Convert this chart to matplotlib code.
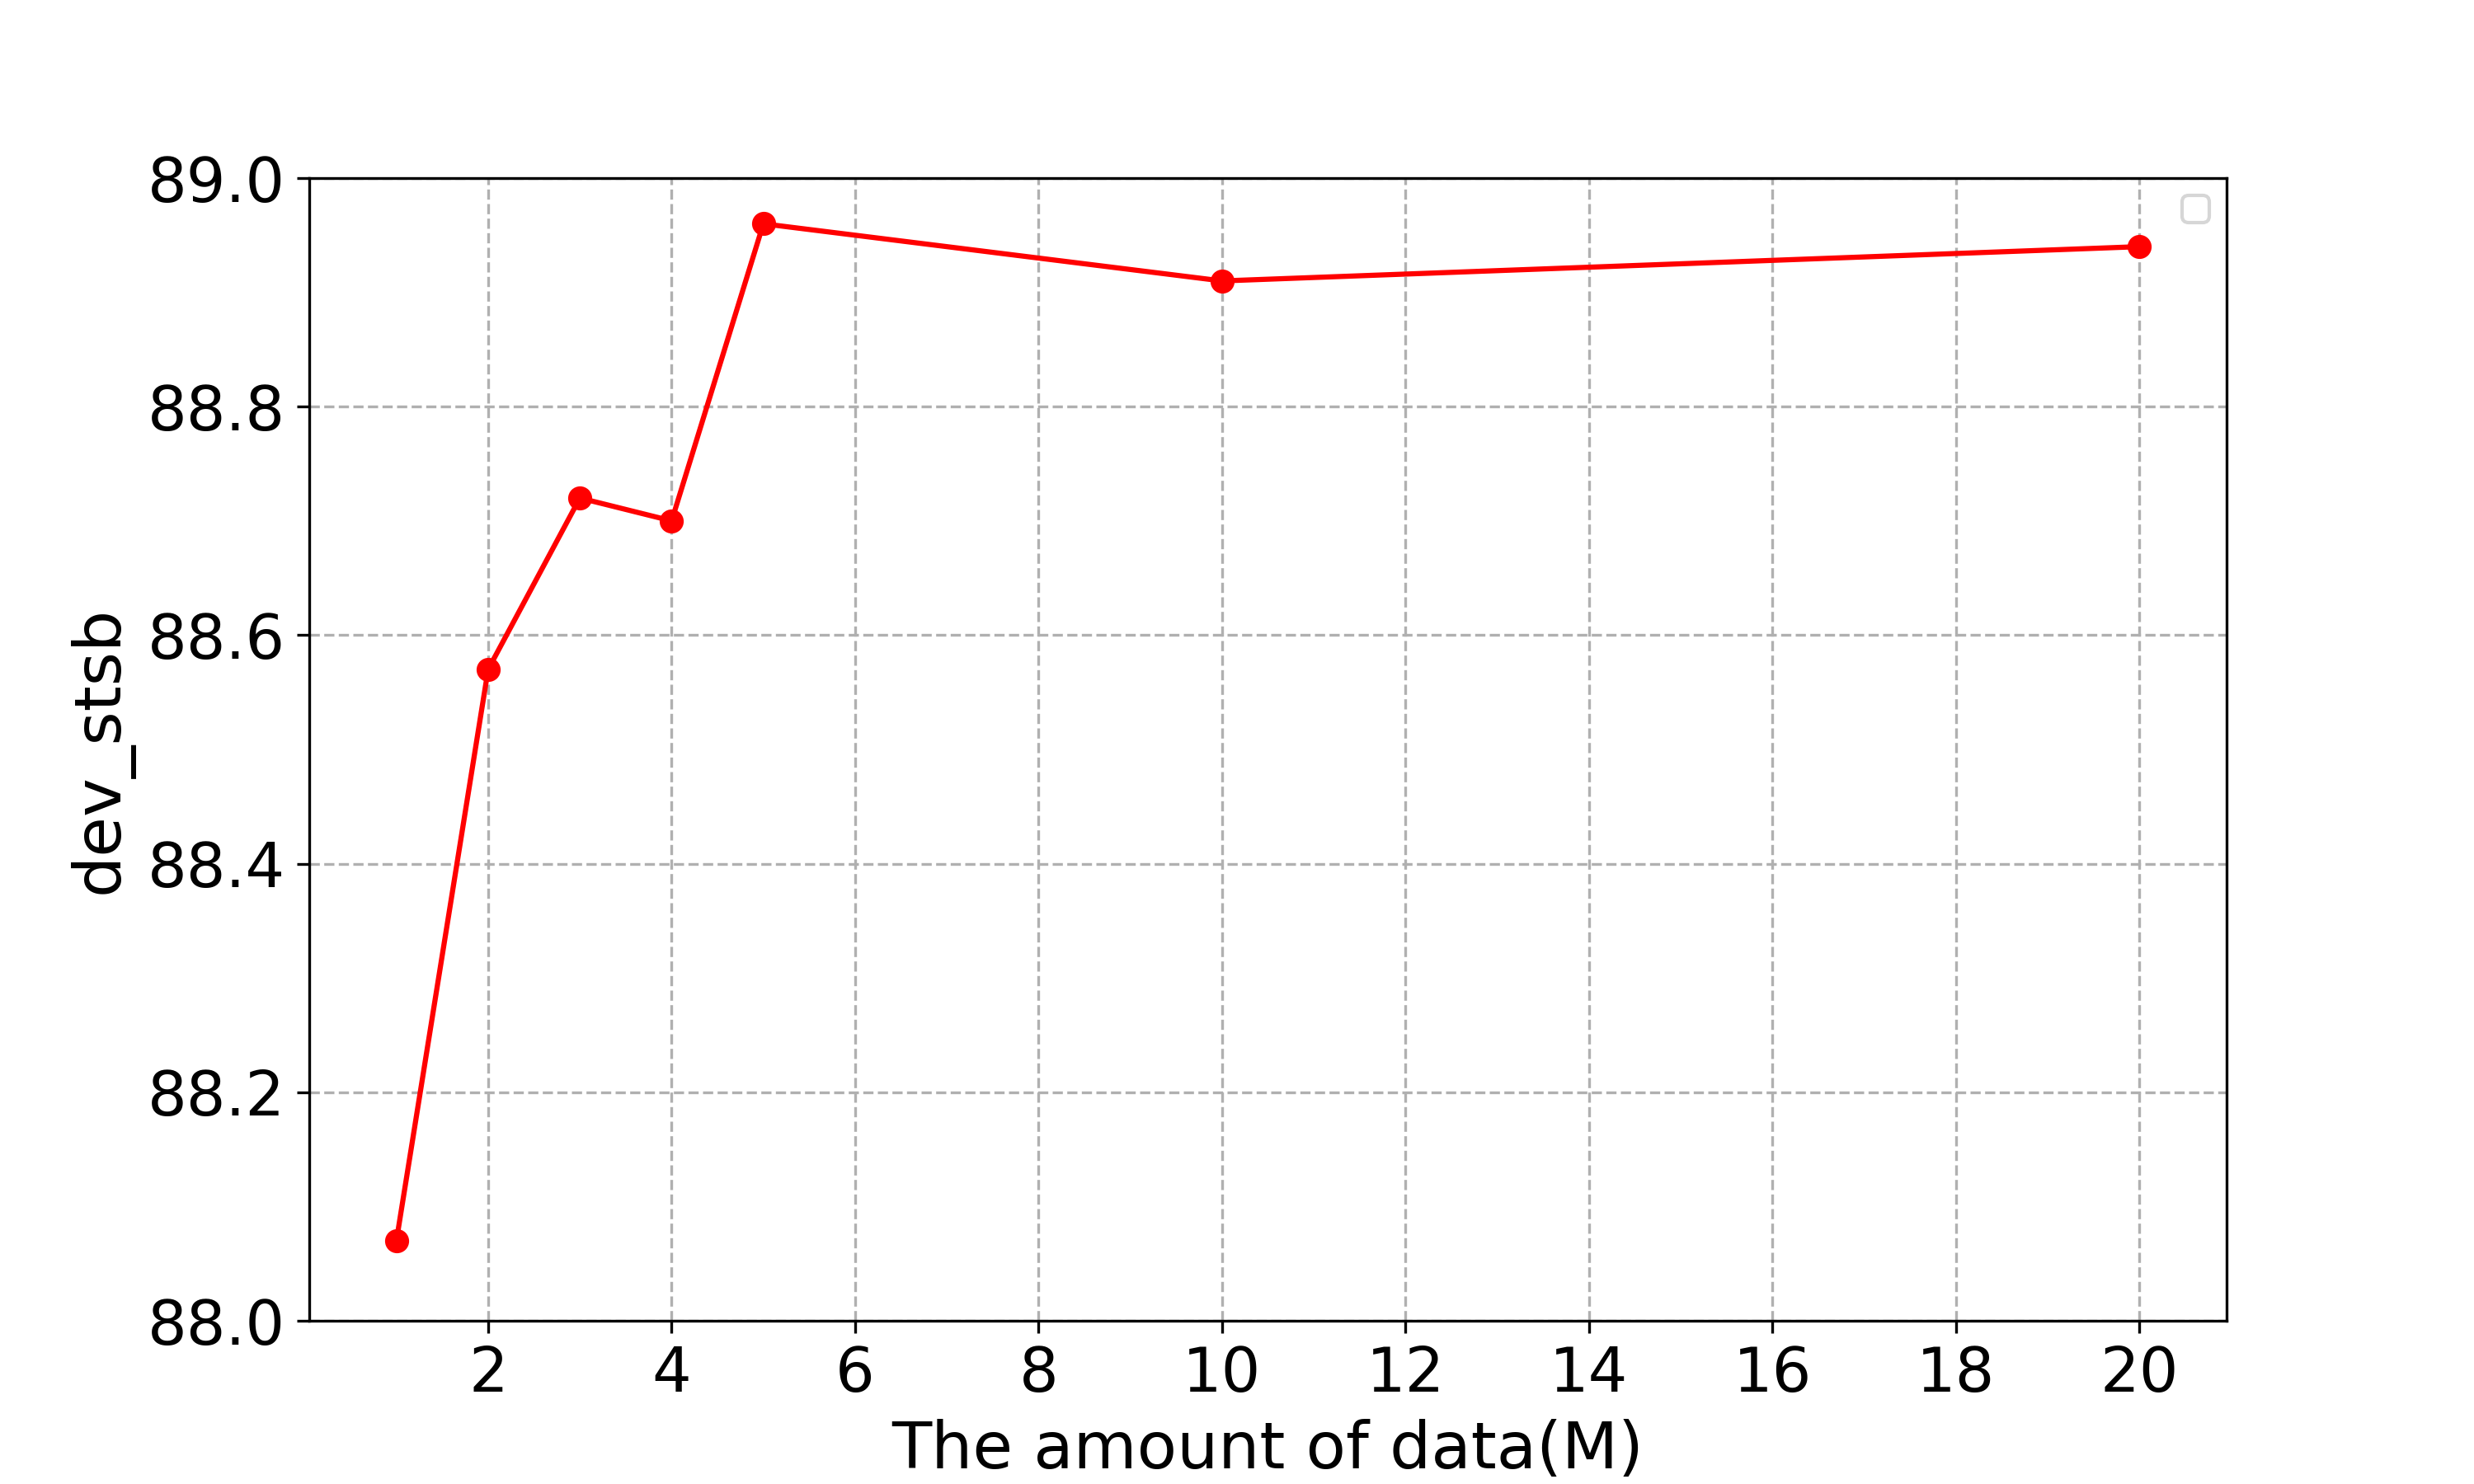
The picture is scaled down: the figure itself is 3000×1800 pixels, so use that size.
import matplotlib
matplotlib.use('Agg')
import matplotlib.pyplot as plt

# data
data_amount = [1, 2, 3, 4, 5, 10, 20]
dev_stsb = [88.07, 88.57, 88.72, 88.70, 88.96, 88.91, 88.94]
x_ticks = [2, 4, 6, 8, 10, 12, 14, 16, 18, 20]
y_ticks = [88.0, 88.2, 88.4, 88.6, 88.8, 89.0]

fig = plt.figure(figsize=(10, 6))
plt.plot(data_amount, dev_stsb, color='red', marker='o')
plt.ylim(88.0, 89.0)
plt.yticks(y_ticks, fontsize=18)
plt.xticks(x_ticks, fontsize=18)
plt.xlabel('The amount of data(M)', fontsize=19)
plt.ylabel('dev_stsb', fontsize=19)
plt.grid(linestyle='--')
# empty legend box, as in the original
plt.legend(handles=[], loc='upper right')
plt.savefig('out.png', dpi=300)
